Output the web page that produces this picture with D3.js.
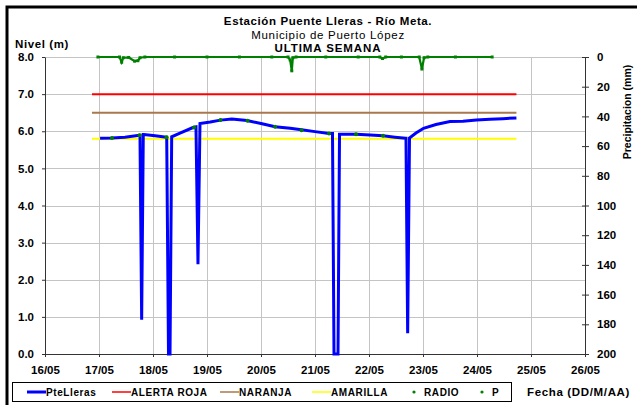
<!DOCTYPE html>
<html>
<head>
<meta charset="utf-8">
<script src="https://cdn.jsdelivr.net/npm/d3@7"></script>
<style>
  body { margin: 0; background: #fff; }
  svg text { font-family: "Liberation Sans", Arial, sans-serif; }
</style>
</head>
<body>
<div id="chart"></div>
<script>
// dias como fraccion del mes de mayo
var nivelDias = [17.02, 17.24, 17.48, 17.75, 17.759, 17.79, 17.82, 17.83, 18.04, 18.25,
                 18.254, 18.287, 18.315, 18.346, 18.5, 18.74, 18.796, 18.833, 18.87, 19.06,
                 19.25, 19.46, 19.74, 20.02, 20.26, 20.54, 20.75, 21.0, 21.26, 21.324,
                 21.352, 21.426, 21.454, 21.76, 22.02, 22.26, 22.48, 22.68, 22.685, 22.716,
                 22.75, 22.87, 23.01, 23.24, 23.5, 23.74, 23.99, 24.24, 24.48, 24.73];
var nivelValores = [5.81, 5.82, 5.84, 5.89, 5.89, 0.92, 5.91, 5.91, 5.88, 5.84,
                    5.84, 0.0, 0.0, 5.85, 5.95, 6.10, 6.12, 2.42, 6.21, 6.25,
                    6.30, 6.33, 6.29, 6.20, 6.12, 6.08, 6.04, 5.99, 5.94, 5.94,
                    0.0, 0.0, 5.92, 5.92, 5.90, 5.88, 5.84, 5.81, 5.81, 0.56,
                    5.82, 5.95, 6.08, 6.18, 6.26, 6.27, 6.30, 6.32, 6.34, 6.36];

var radioDias = [17.24, 17.75, 18.25, 18.76, 19.25, 19.75, 20.26, 20.75, 21.26, 21.76, 22.26];
var radioValores = [5.82, 5.89, 5.84, 6.10, 6.30, 6.28, 6.12, 6.03, 5.94, 5.92, 5.88];

var precDias = [16.98, 17.38, 17.42, 17.45, 17.55, 17.66, 17.72, 17.76, 17.85, 18.4,
                19.0, 19.6, 20.2, 20.50, 20.54, 20.57, 20.59, 20.65, 21.2, 21.8,
                22.20, 22.25, 22.31, 22.6, 22.93, 22.98, 23.02, 23.09, 23.6, 24.28];
var precValores = [0, 0, 3.5, 0.5, 0.3, 2.8, 2.5, 0.5, 0, 0,
                   0, 0, 0, 0, 2, 9.3, 0.5, 0, 0, 0,
                   0, 1.0, 0, 0, 0, 8.1, 0.5, 0, 0, 0];

var umbralNombres = ["ALERTA ROJA", "NARANJA", "AMARILLA"];
var umbralValores = [7.0, 6.5, 5.8];
var umbralColores = ["#ff0000", "#a8784e", "#ffff00"];
var umbralDias = [16.87, 24.73];

var nivelTicks = [0, 1, 2, 3, 4, 5, 6, 7, 8];
var precTicks = [0, 20, 40, 60, 80, 100, 120, 140, 160, 180, 200];
var fechaTicks = [16, 17, 18, 19, 20, 21, 22, 23, 24, 25, 26];

(function() {
  var width = 637, height = 405;
  var mLeft = 45, mRight = 585, mTop = 57, mBottom = 354;

  function fecha(d) { return new Date(2013, 4, 1).getTime() + (d - 1) * 864e5; }

  var svg = d3.select("#chart").append("svg")
    .attr("width", width).attr("height", height);

  // marco exterior (solo borde superior e izquierdo visibles)
  svg.append("path")
    .attr("d", "M7,405 V7 H640")
    .attr("fill", "none").attr("stroke", "#000").attr("stroke-width", 3);

  var x = d3.scaleTime()
    .domain([fecha(16), fecha(26)])
    .range([mLeft, mRight]);
  var y = d3.scaleLinear().domain([0, 8]).range([mBottom, mTop]);
  var y2 = d3.scaleLinear().domain([0, 200]).range([mTop, mBottom]);

  // rejilla
  var grid = svg.append("g").attr("stroke", "#c4c4c4").attr("stroke-width", 1);
  grid.selectAll("line.v").data(fechaTicks).enter().append("line")
    .attr("x1", function(d) { return Math.round(x(fecha(d))) + 0.5; })
    .attr("x2", function(d) { return Math.round(x(fecha(d))) + 0.5; })
    .attr("y1", mTop).attr("y2", mBottom);
  grid.selectAll("line.h").data(nivelTicks).enter().append("line")
    .attr("y1", function(d) { return Math.round(y(d)) + 0.5; })
    .attr("y2", function(d) { return Math.round(y(d)) + 0.5; })
    .attr("x1", mLeft).attr("x2", mRight);

  // ejes
  var fmtFecha = d3.timeFormat("%d/%m");
  var xAxis = svg.append("g")
    .attr("transform", "translate(0," + mBottom + ")")
    .call(d3.axisBottom(x).tickValues(fechaTicks.map(fecha))
      .tickFormat(function(d) { return fmtFecha(new Date(d)); })
      .tickSize(3).tickSizeOuter(0));
  xAxis.selectAll("text").attr("dy", "1.25em");

  var yAxis = svg.append("g")
    .attr("transform", "translate(" + mLeft + ",0)")
    .call(d3.axisLeft(y).tickValues(nivelTicks).tickFormat(d3.format(".1f")).tickSize(3).tickSizeOuter(0));
  yAxis.selectAll("text").attr("x", -11);

  var y2Axis = svg.append("g")
    .attr("transform", "translate(" + mRight + ",0)")
    .call(d3.axisRight(y2).tickValues(precTicks).tickSize(4).tickSizeOuter(0));
  y2Axis.selectAll(".tick line").attr("x1", -3);
  y2Axis.selectAll("text").attr("x", 12);

  svg.selectAll(".domain").attr("stroke", "#333");
  svg.selectAll(".tick line").attr("stroke", "#333");
  svg.selectAll(".tick text")
    .attr("font-size", 11.5).attr("font-weight", "bold").attr("fill", "#000")
    .style("font-family", "'Liberation Sans', Arial, sans-serif");

  // umbrales
  svg.append("g").selectAll("line").data(umbralValores).enter().append("line")
    .attr("x1", x(fecha(umbralDias[0]))).attr("x2", x(fecha(umbralDias[1])))
    .attr("y1", function(d) { return y(d); }).attr("y2", function(d) { return y(d); })
    .attr("stroke", function(d, i) { return umbralColores[i]; })
    .attr("stroke-width", 2);

  // precipitacion (eje derecho)
  var precLine = d3.line()
    .x(function(d, i) { return x(fecha(precDias[i])); })
    .y(function(d) { return y2(d); });
  svg.append("path")
    .attr("d", precLine(precValores))
    .attr("fill", "none").attr("stroke", "#008000").attr("stroke-width", 2.2);
  svg.append("g").selectAll("rect").data(precValores).enter().append("rect")
    .attr("x", function(d, i) { return x(fecha(precDias[i])) - 1.5; })
    .attr("y", function(d) { return y2(d) - 1.5; })
    .attr("width", 3).attr("height", 3)
    .attr("fill", "#008000");

  // nivel PteLleras
  var nivelLine = d3.line()
    .x(function(d, i) { return x(fecha(nivelDias[i])); })
    .y(function(d) { return y(d); });
  svg.append("path")
    .attr("d", nivelLine(nivelValores))
    .attr("fill", "none").attr("stroke", "#0000ff").attr("stroke-width", 3)
    .attr("stroke-linejoin", "miter").attr("stroke-miterlimit", 2);

  // RADIO
  svg.append("g").selectAll("circle").data(radioValores).enter().append("circle")
    .attr("cx", function(d, i) { return x(fecha(radioDias[i])); })
    .attr("cy", function(d) { return y(d); })
    .attr("r", 2).attr("fill", "#008000");

  // titulos
  var tit = svg.append("g").attr("text-anchor", "middle").attr("font-size", 11.5);
  tit.append("text").attr("x", 328).attr("y", 25).attr("font-weight", "bold")
    .attr("letter-spacing", 0.6)
    .text("Estación Puente Lleras - Río Meta.");
  tit.append("text").attr("x", 328).attr("y", 38.5)
    .attr("letter-spacing", 0.7)
    .text("Municipio de Puerto López");
  tit.append("text").attr("x", 328).attr("y", 52).attr("font-weight", "bold")
    .attr("letter-spacing", 0.9)
    .text("ULTIMA SEMANA");

  svg.append("text").attr("x", 15).attr("y", 48)
    .attr("font-size", 11.5).attr("font-weight", "bold").attr("letter-spacing", 0.6)
    .text("Nivel (m)");

  svg.append("text")
    .attr("transform", "translate(631,112) rotate(-90)")
    .attr("text-anchor", "middle").attr("font-size", 10.5).attr("font-weight", "bold")
    .text("Precipitacion (mm)");

  svg.append("text").attr("x", 527).attr("y", 396)
    .attr("font-size", 11.5).attr("font-weight", "bold").attr("letter-spacing", 0.65)
    .text("Fecha (DD/M/AA)");

  // leyenda
  var leg = svg.append("g");
  leg.append("rect").attr("x", 12.5).attr("y", 382.5).attr("width", 499).attr("height", 19)
    .attr("fill", "#fff").attr("stroke", "#000");
  var legItems = [
    { name: "PteLleras", color: "#0000ff", x: 27, w: 3, type: "line" },
    { name: umbralNombres[0], color: umbralColores[0], x: 112, w: 1.5, type: "line" },
    { name: umbralNombres[1], color: umbralColores[1], x: 220, w: 1.5, type: "line" },
    { name: umbralNombres[2], color: umbralColores[2], x: 312, w: 1.5, type: "line" },
    { name: "RADIO", color: "#008000", x: 408, type: "dot" },
    { name: "P", color: "#008000", x: 476, type: "dot" }
  ];
  var li = leg.selectAll("g.item").data(legItems).enter().append("g")
    .attr("transform", function(d) { return "translate(" + d.x + ",392)"; });
  li.filter(function(d) { return d.type === "line"; }).append("line")
    .attr("x1", 0).attr("x2", 19)
    .attr("stroke", function(d) { return d.color; })
    .attr("stroke-width", function(d) { return d.w; });
  li.filter(function(d) { return d.type === "dot"; }).append("circle")
    .attr("cx", 6).attr("r", 1.6).attr("fill", function(d) { return d.color; });
  li.append("text")
    .attr("x", function(d) { return d.type === "line" ? 19 : 16; })
    .attr("y", 3.8).attr("font-size", 10).attr("font-weight", "bold")
    .attr("letter-spacing", 0.6)
    .text(function(d) { return d.name; });
})();
</script>
</body>
</html>
